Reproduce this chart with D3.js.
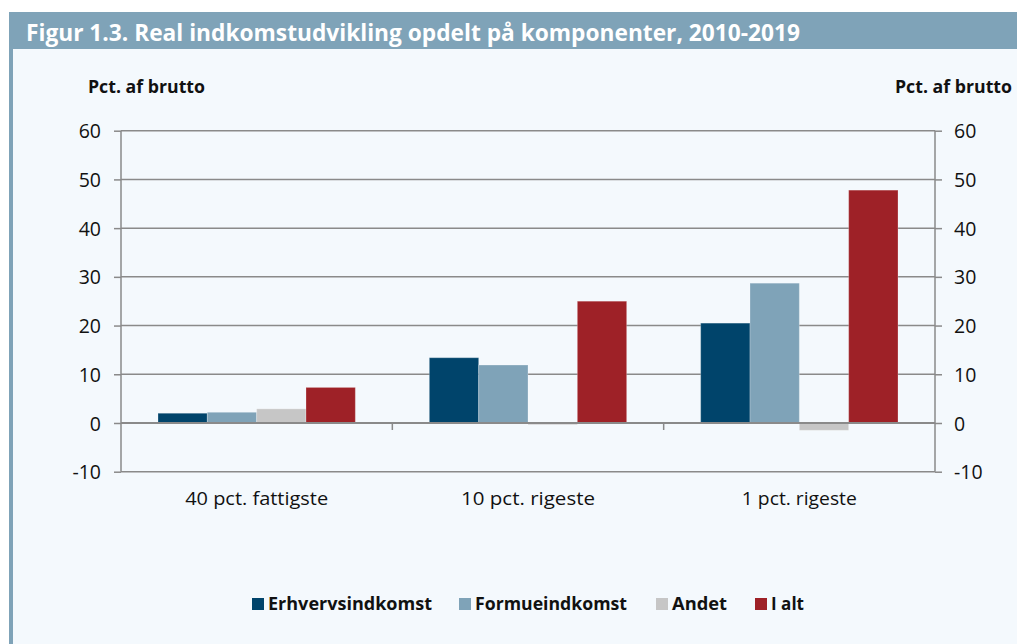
<!DOCTYPE html>
<html>
<head>
<meta charset="utf-8">
<title>Figur 1.3</title>
<script src="https://cdnjs.cloudflare.com/ajax/libs/d3/7.8.5/d3.min.js"></script>
<style>
    html, body { margin: 0; padding: 0; background: #fff; }
    svg { display: block; }
</style>
</head>
<body>
<div id="chart"></div>
<script>
    // data
    var groups = ["40 pct. fattigste", "10 pct. rigeste", "1 pct. rigeste"];
    var seriesNames = ["Erhvervsindkomst", "Formueindkomst", "Andet", "I alt"];
    var seriesColors = ["#00446b", "#7fa3b8", "#c6c6c6", "#9e2127"];
    var erhverv = [2.0, 13.4, 20.5];
    var formue = [2.2, 11.9, 28.7];
    var andet = [2.9, -0.35, -1.5];
    var ialt = [7.3, 25.0, 47.8];
    var yTicks = [-10, 0, 10, 20, 30, 40, 50, 60];

    var seriesValues = [erhverv, formue, andet, ialt];

    var W = 1017, H = 644;
    var svg = d3.select("#chart").append("svg").attr("width", W).attr("height", H);

    // page frame
    svg.append("rect").attr("x", 13).attr("y", 48).attr("width", W - 13).attr("height", H - 48).attr("fill", "#f4f9fd");
    svg.append("rect").attr("x", 9).attr("y", 12).attr("width", W - 9).attr("height", 37).attr("fill", "#7fa3b8");
    svg.append("rect").attr("x", 9).attr("y", 12).attr("width", 4).attr("height", H - 12).attr("fill", "#7fa3b8");

    svg.append("text")
        .attr("x", 26).attr("y", 41)
        .attr("fill", "#fff")
        .attr("font-family", "Open Sans, sans-serif")
        .attr("font-weight", "bold")
        .attr("font-size", 23)
        .attr("textLength", 774)
        .attr("lengthAdjust", "spacingAndGlyphs")
        .text("Figur 1.3. Real indkomstudvikling opdelt på komponenter, 2010-2019");

    var plotL = 121, plotR = 935, plotT = 130.7, plotB = 471.7;

    var x = d3.scaleBand().domain(groups).range([plotL, plotR]);
    var xInner = d3.scaleBand().domain(seriesNames).range([0, x.bandwidth()]).paddingOuter(0.75);
    var y = d3.scaleLinear().domain([-10, 60]).range([plotB, plotT]);

    var grey = "#8a8a8a";

    // grid
    svg.append("g").selectAll("line").data(yTicks).join("line")
        .attr("x1", plotL).attr("x2", plotR)
        .attr("y1", d => y(d)).attr("y2", d => y(d))
        .attr("stroke", grey)
        .attr("stroke-width", d => d === 0 ? 2 : 1.5);

    // bars
    var bars = [];
    groups.forEach(function (g, i) {
        seriesNames.forEach(function (s, j) {
            bars.push({ group: g, series: s, value: seriesValues[j][i], color: seriesColors[j] });
        });
    });

    svg.append("g").selectAll("rect").data(bars).join("rect")
        .attr("x", d => x(d.group) + xInner(d.series))
        .attr("width", xInner.bandwidth())
        .attr("y", d => y(Math.max(0, d.value)))
        .attr("height", d => Math.abs(y(d.value) - y(0)))
        .attr("fill", d => d.color)
        .attr("stroke", "#ffffff")
        .attr("stroke-opacity", 0.25)
        .attr("stroke-width", 1);

    // zero line on top of bars
    svg.append("line")
        .attr("x1", plotL).attr("x2", plotR)
        .attr("y1", y(0)).attr("y2", y(0))
        .attr("stroke", grey).attr("stroke-width", 2);

    // category separators on the zero line
    svg.append("g").selectAll("line").data(groups.slice(1)).join("line")
        .attr("x1", d => x(d)).attr("x2", d => x(d))
        .attr("y1", y(0)).attr("y2", y(0) + 7)
        .attr("stroke", grey).attr("stroke-width", 1.5);

    // axes
    var fmt = d => String(d);
    var leftAxis = d3.axisLeft(y).tickValues(yTicks).tickSize(7).tickPadding(13).tickFormat(fmt);
    var rightAxis = d3.axisRight(y).tickValues(yTicks).tickSize(7).tickPadding(12).tickFormat(fmt);

    function styleAxis(g) {
        g.select(".domain").attr("stroke", grey).attr("stroke-width", 1.5);
        g.selectAll(".tick line").attr("stroke", grey).attr("stroke-width", 1.5);
        g.selectAll(".tick text")
            .attr("fill", "#111")
            .attr("font-family", "Open Sans, sans-serif")
            .attr("font-size", 19.5)
            .attr("dy", "0.36em");
    }

    svg.append("g").attr("transform", "translate(" + plotL + ",0)").call(leftAxis).call(styleAxis)
        .select(".domain").attr("d", "M0," + plotT + "V" + plotB);
    svg.append("g").attr("transform", "translate(" + plotR + ",0)").call(rightAxis).call(styleAxis)
        .select(".domain").attr("d", "M0," + plotT + "V" + plotB);

    // category labels
    var catW = [143, 134, 115];
    svg.append("g").selectAll("text").data(groups).join("text")
        .attr("x", d => x(d) + x.bandwidth() / 2)
        .attr("y", 505)
        .attr("text-anchor", "middle")
        .attr("fill", "#111")
        .attr("font-family", "Open Sans, sans-serif")
        .attr("font-size", 18)
        .attr("textLength", (d, i) => catW[i])
        .attr("lengthAdjust", "spacingAndGlyphs")
        .text(d => d);

    // axis titles
    svg.append("text").attr("x", 88).attr("y", 93)
        .attr("font-family", "Open Sans, sans-serif").attr("font-weight", "bold").attr("font-size", 17)
        .attr("fill", "#111").attr("textLength", 117).attr("lengthAdjust", "spacingAndGlyphs")
        .text("Pct. af brutto");
    svg.append("text").attr("x", 1012).attr("y", 93).attr("text-anchor", "end")
        .attr("font-family", "Open Sans, sans-serif").attr("font-weight", "bold").attr("font-size", 17)
        .attr("fill", "#111").attr("textLength", 117).attr("lengthAdjust", "spacingAndGlyphs")
        .text("Pct. af brutto");

    // legend
    var legendX = [252, 459, 656, 755];
    var legendW = [164, 152, 55, 33];
    var legend = svg.append("g").selectAll("g").data(seriesNames).join("g")
        .attr("transform", (d, i) => "translate(" + legendX[i] + ",604)");
    legend.append("rect").attr("x", 0).attr("y", -6).attr("width", 12).attr("height", 12)
        .attr("fill", (d, i) => seriesColors[i]);
    legend.append("text").attr("x", 16).attr("y", 0).attr("dy", "0.36em")
        .attr("font-family", "Open Sans, sans-serif").attr("font-weight", "bold").attr("font-size", 17)
        .attr("fill", "#111")
        .attr("textLength", (d, i) => legendW[i]).attr("lengthAdjust", "spacingAndGlyphs")
        .text(d => d);
</script>
</body>
</html>
